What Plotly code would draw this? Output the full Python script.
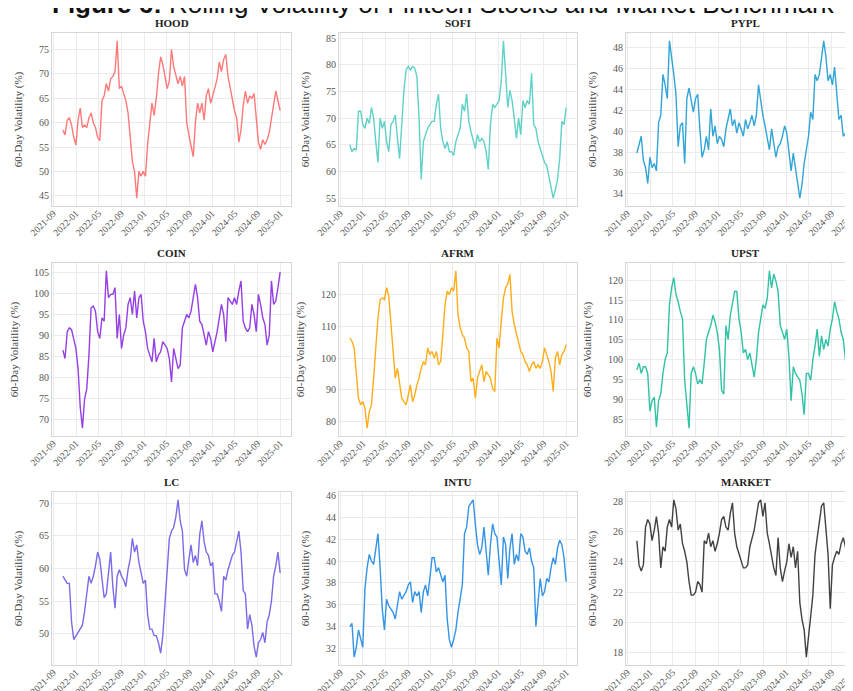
import pandas as pd
import plotly.graph_objects as go

START, END = "2021-10-22", "2024-12-31"
TICKERS = ["HOOD", "SOFI", "PYPL", "COIN", "AFRM", "UPST", "LC", "INTU", "MARKET"]

HOOD = [58.5, 57.5, 60.5, 61, 59.5, 57, 55.4, 60.5, 63, 59,
        59.5, 59, 61, 62, 60, 59, 57, 56.3, 64.5, 65.5,
        68, 66.5, 69, 69.5, 70.5, 76.8, 67, 67.5, 66, 64.5,
        62, 57, 52, 50, 44.5, 50, 49, 50, 49, 55.5,
        59.5, 64, 61.5, 65, 70, 73.5, 72, 69.5, 67, 68.5,
        75, 71.5, 69.5, 68, 69.5, 67.5, 69.5, 60, 57.5, 55,
        53, 60, 64, 62, 64, 60.5, 65.5, 67, 64, 65.5,
        67, 69, 72.5, 70.5, 73, 74, 69.5, 67, 64.5, 62.5,
        61, 56, 58.5, 63.5, 66.5, 64, 65.5, 65, 66, 60.5,
        56, 54.5, 56.5, 55.5, 56.5, 58, 61, 63, 66.5, 64.5, 62.5]
SOFI = [65, 63.7, 64.3, 64, 71.3, 71.3, 68.8, 68.1, 70, 69,
        72, 70, 65.6, 61.7, 70, 68.1, 69.4, 65.6, 63.7, 68.8,
        69.4, 70.6, 66.2, 62.4, 68.8, 75.2, 79, 79.7, 79, 79.7,
        79.4, 77.8, 70, 58.5, 65.6, 66.9, 68.1, 68.8, 69.4, 69.4,
        72.6, 74.5, 68.1, 65.6, 64.3, 65.6, 63.7, 63.7, 63, 65.6,
        66.9, 68.1, 72.6, 71.3, 74.5, 69.4, 67.5, 65.6, 64.3, 66.9,
        65.6, 66.2, 65.6, 63.7, 60.4, 68.8, 72.6, 72, 72.6, 73.3,
        77.1, 84.5, 78.4, 72, 75.2, 73.3, 70, 66.2, 70, 66.9,
        73.3, 72, 73.3, 72.6, 78.4, 68.8, 68.1, 65.6, 64.3, 63,
        61.7, 61.1, 59.1, 56.6, 55, 56.6, 58.5, 62.4, 69.4, 68.8, 72]
PYPL = [37.9, 38.8, 39.5, 37.2, 36.5, 35, 37.5, 36.5, 36.9, 36.2,
        40.8, 41.5, 45.4, 44.4, 43.1, 48.6, 47.1, 45.4, 43.5, 38.5,
        40.5, 40.8, 36.9, 43.1, 44.1, 42.8, 41.8, 43.1, 43.5, 40.2,
        37.5, 38.2, 39.5, 38.2, 42.1, 39.5, 40.5, 38.8, 39.5, 39.2,
        38.5, 40.2, 41.1, 42.1, 40.5, 41.1, 39.8, 40.8, 40.2, 39.5,
        41.1, 40.2, 40.8, 41.5, 40.5, 41.5, 44.4, 42.8, 41.5, 40.5,
        39.5, 38.2, 40.2, 38.8, 37.5, 38.5, 38.8, 39.5, 40.5, 39.8,
        38.2, 36.2, 37.9, 36.5, 35.2, 33.6, 34.9, 36.9, 38.2, 39.5,
        41.8, 41.1, 45.4, 44.8, 45.4, 47.1, 48.6, 47.1, 44.8, 45.4,
        44.4, 46.1, 43.5, 41.1, 41.5, 39.5, 39.8, 40.5, 37.9, 35.5, 37.9]
COIN = [86.6, 84.6, 91, 91.9, 91.5, 89.4, 87, 82.2, 73, 68,
        75, 77.3, 85.4, 96.7, 97.1, 95.9, 91, 89.4, 94.3, 93.5,
        105.5, 99.1, 99.9, 99.9, 101.5, 89.4, 95.1, 87, 90.2, 91.9,
        97.5, 99.1, 95.1, 100.7, 94.3, 99.1, 99.9, 93.5, 91, 87,
        85.4, 83.8, 89.4, 83.8, 85.4, 86.2, 88.6, 87.8, 87, 84.6,
        79, 87, 84.6, 82.2, 83, 91.9, 93.5, 95.1, 94.3, 95.9,
        99.1, 102.3, 99.1, 93.5, 92.7, 90.2, 87.8, 91, 89.4, 86.2,
        88.6, 91, 94.3, 97.5, 95.1, 88.6, 99.1, 98.3, 97.5, 99.1,
        97.5, 100.7, 103.1, 93.5, 91.9, 91, 91.9, 97.5, 95.1, 91,
        99.9, 97.5, 94.3, 92.7, 87.8, 90.2, 103.1, 97.5, 98.3, 101.5, 105.2]
AFRM = [106.3, 105.3, 103.2, 94.7, 87.4, 85.3, 86.3, 84.2, 78, 83.2,
        85.3, 93.7, 104.2, 112.6, 118.4, 118.9, 118.4, 122.1, 119.5, 111.6,
        103.2, 93.7, 96.8, 92.6, 87.4, 86.3, 85.3, 88.4, 91.6, 86.3,
        88.4, 91.6, 93.7, 96.8, 98.9, 97.9, 103.2, 101.1, 102.1, 100,
        102.1, 97.9, 98.9, 107.4, 116.8, 121, 120, 122.1, 121, 127.4,
        113.7, 109.5, 107.4, 106.3, 103.2, 102.1, 92.6, 93.7, 87.4, 93.7,
        95.8, 97.9, 92.6, 95.8, 94.7, 93.7, 90.5, 89.5, 106.3, 103.2,
        111.6, 118.9, 122.1, 123.2, 126.3, 114.7, 110.5, 107.4, 104.2, 102.1,
        101.1, 98.9, 97.9, 95.8, 97.9, 98.9, 96.8, 97.9, 96.8, 98.9,
        103.2, 101.1, 98.9, 95.8, 89.5, 100, 102.1, 97.9, 101.1, 102.1, 104.2]
UPST = [97.4, 99.1, 96.5, 98.2, 98.2, 96.5, 87, 89.6, 90.5, 83,
        89.6, 91.3, 96.5, 100, 101.7, 113.8, 118.1, 120.7, 116.4, 114.6,
        112.1, 110.3, 94.8, 89.6, 82.7, 96.5, 98.2, 96.5, 93.9, 94.8,
        93.9, 99.1, 105.1, 106.9, 108.6, 111.2, 109.5, 106.9, 102.6, 92.2,
        91.3, 108.6, 105.1, 111.2, 114.6, 117.2, 117.2, 110.3, 106.9, 101.7,
        102.6, 100, 101.7, 98.2, 95.6, 100, 106.9, 110.3, 113.8, 112.9,
        115.5, 122.4, 118.1, 121.6, 119.8, 117.2, 108.6, 106.9, 105.1, 107.7,
        100.8, 89.6, 98.2, 96.5, 95.6, 94.8, 91.3, 86.1, 96.5, 96.5,
        94.8, 100, 103.4, 107.7, 100.8, 106, 102.6, 105.1, 103.4, 107.7,
        110.3, 114.6, 112.1, 110.3, 106.9, 105.1, 100, 95.6, 87, 85, 90]
LC = [58.8, 58.2, 57.7, 57.7, 51.8, 49.1, 49.7, 50.2, 50.7, 51.3,
      53.4, 56.6, 58.8, 57.7, 58.8, 60.4, 62.5, 61.4, 58.8, 55.5,
      56.1, 59.3, 62.5, 57.2, 53.9, 58.8, 59.8, 58.8, 58.2, 57.2,
      59.8, 61.4, 64.6, 62.5, 63.6, 60.9, 59.3, 57.7, 58.2, 52.9,
      50.7, 50.7, 49.7, 49.7, 48.6, 47, 49.7, 55, 60.4, 64.6,
      65.7, 66.3, 67.9, 70.5, 67.3, 65.7, 59.8, 58.8, 61.4, 63.6,
      60.9, 62, 60.4, 65.2, 67.3, 64.1, 62.5, 62, 60.4, 60.9,
      56.1, 56.1, 55, 53.4, 58.8, 58.2, 59.8, 60.9, 62, 62.5,
      64.1, 65.7, 62.5, 56.6, 56.1, 50.7, 52.9, 51.3, 48.1, 46.4,
      48.6, 49.1, 50.2, 48.6, 51.8, 52.9, 55, 58.8, 60.4, 62.5, 59.3]
INTU = [34, 34.3, 31.2, 32.1, 33.7, 32.8, 32.1, 37.5, 39.4, 40.6,
        40, 39.7, 41.2, 42.5, 39.4, 35.6, 33.7, 36.5, 35.9, 35.6,
        35.3, 34.7, 36.2, 37.2, 36.5, 36.8, 37.2, 37.8, 38.1, 36.2,
        37.2, 36.8, 37.2, 35.3, 37.2, 37.8, 36.8, 38.4, 40.3, 40.3,
        39, 39.4, 38.7, 38.1, 38.7, 34.7, 32.8, 32.1, 32.8, 33.7,
        35.3, 36.8, 37.8, 42.5, 43.1, 45, 45.3, 45.6, 43.4, 41.5,
        40.6, 41.2, 43.1, 40.9, 38.7, 41.5, 43.4, 42.5, 42.2, 40,
        37.8, 42.2, 41.5, 38.4, 41.2, 42.5, 39.7, 40.6, 40, 42.5,
        42.2, 40.9, 40.6, 41.2, 40, 39.4, 34, 36.2, 38.4, 36.8,
        37.2, 38.4, 38.1, 39.4, 40.3, 39.7, 41.2, 41.9, 41.5, 40.3, 38.1]
MARKET = [25.4, 23.8, 23.4, 23.8, 26.3, 26.8, 26.5, 25.4, 26.1, 27,
          25.9, 23.6, 25, 24.7, 26.3, 26.8, 26.3, 28.1, 27.5, 26.1,
          26.5, 25.2, 24.7, 24, 22.7, 21.8, 21.8, 22, 22.7, 22.5,
          22, 25.4, 25.2, 25.9, 25, 25.4, 24.7, 25.2, 25.9, 26.8,
          27, 26.3, 26.1, 27.2, 27.9, 25.9, 25, 24.5, 24, 23.6,
          23.6, 23.8, 25, 25.6, 26.1, 27, 27.9, 28.1, 27, 27.9,
          25.9, 25.2, 24.3, 23.6, 23.1, 25.6, 23.6, 22.7, 23.4, 24,
          25.2, 24.3, 25, 23.6, 24.7, 21.3, 20.2, 19.5, 17.7, 19.3,
          20.4, 21.8, 24.5, 25.6, 26.5, 27.7, 27.9, 26.3, 24.5, 20.9,
          23.8, 24.3, 24.7, 24.5, 25.2, 25.6, 25, 23.6, 22.9, 21.3, 25.9]

SERIES = [HOOD, SOFI, PYPL, COIN, AFRM, UPST, LC, INTU, MARKET]
COLORS = ["#ff6b6b", "#4ecdc4", "#1b9bd4", "#8a2be2", "#ffa500",
          "#1abc9c", "#6c5ce7", "#1e88e5", "#2d2d2d"]
YTICK_STEP = [5, 5, 2, 5, 10, 5, 5, 2, 2]
TITLE = "<b>Figure 6:</b> Rolling Volatility of Fintech Stocks and Market Benchmark"
YLABEL = "60-Day Volatility (%)"

W, H = 853, 691
COL_PX = [(44, 283), (331, 569), (618, 857)]
ROW_PX = [(25, 198), (255, 428), (484, 657)]
SERIF = "Liberation Serif, Times New Roman, serif"

fig = go.Figure()
t0, t1 = pd.Timestamp(START), pd.Timestamp(END)
span = t1 - t0
xr0, xr1 = t0 - span * 0.05, t1 + span * 0.05

annotations = []
for i, (name, vals) in enumerate(zip(TICKERS, SERIES)):
    r, c = divmod(i, 3)
    n = i + 1
    dates = pd.date_range(START, END, periods=len(vals))
    fig.add_trace(go.Scatter(x=dates, y=vals, mode="lines",
                             line=dict(color=COLORS[i], width=1.4),
                             opacity=0.9, showlegend=False,
                             xaxis=f"x{n}", yaxis=f"y{n}"))
    x0p, x1p = COL_PX[c]
    y0p, y1p = ROW_PX[r]
    x1c = min(x1p, W)
    frac = (x1c - x0p) / (x1p - x0p)
    xe = xr0 + (xr1 - xr0) * frac
    lo, hi = min(vals), max(vals)
    pad = (hi - lo) * 0.05
    common = dict(showgrid=True, gridcolor="#ebebeb", gridwidth=1,
                  showline=True, linecolor="#d6d6d6", linewidth=1.2, mirror=True,
                  zeroline=False, ticks="", ticklen=0, automargin=False)
    fig.update_layout(**{
        f"xaxis{n}": dict(domain=[x0p / W, x1c / W], anchor=f"y{n}",
                          range=[xr0, xe], type="date",
                          tick0="2021-09-01", dtick="M4", tickformat="%Y-%m",
                          tickangle=-45, ticklabelstandoff=-3,
                          tickfont=dict(family=SERIF, size=9.5, color="#555555"),
                          **common),
        f"yaxis{n}": dict(domain=[1 - y1p / H, 1 - y0p / H], anchor=f"x{n}",
                          range=[lo - pad, hi + pad], dtick=YTICK_STEP[i],
                          tickfont=dict(family=SERIF, size=10, color="#555555"),
                          title=dict(text=YLABEL, standoff=14,
                                     font=dict(family=SERIF, size=11, color="#444444")),
                          **common),
    })
    annotations.append(dict(text=f"<b>{name}</b>", xref="paper", yref="paper",
                            x=((x0p + x1p) / 2) / W, y=1 - (y0p - 3) / H,
                            xanchor="center", yanchor="bottom", showarrow=False,
                            borderpad=0,
                            font=dict(family=SERIF, size=11, color="#222222")))

annotations.append(dict(text=TITLE, xref="paper", yref="paper", x=435 / W,
                        y=1 - 12 / H, xanchor="center", yanchor="bottom",
                        showarrow=False, borderpad=0,
                        font=dict(family="Liberation Sans, Arial, sans-serif",
                                  size=26, color="#111111")))

fig.update_layout(width=W, height=H, margin=dict(l=0, r=0, t=0, b=0),
                  paper_bgcolor="white", plot_bgcolor="white",
                  annotations=annotations)
fig.write_html("out.html")
